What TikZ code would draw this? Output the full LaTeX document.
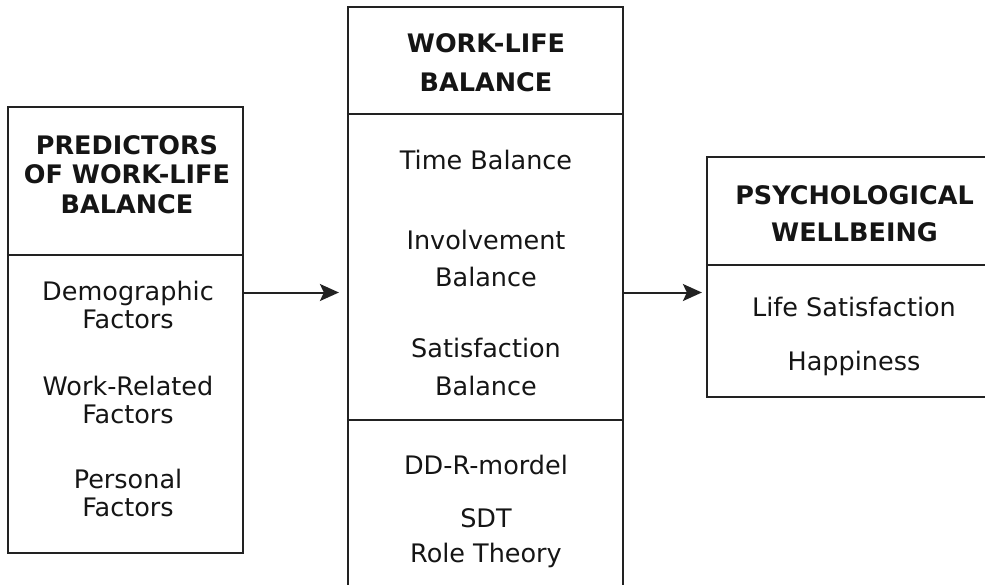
\documentclass[tikz,border=0pt]{standalone}
\usepackage{fontspec}
\setmainfont{DejaVu Sans}
\usetikzlibrary{arrows.meta}

\definecolor{linegray}{HTML}{222222}
\definecolor{inkgray}{HTML}{151515}

\tikzset{
  box/.style={draw=linegray, line width=2.2pt, rectangle, inner sep=0pt},
  head/.style={font=\fontsize{25.5}{#1}\selectfont\bfseries, align=center, text=inkgray, inner sep=0pt},
  item/.style={font=\fontsize{25.5}{#1}\selectfont, align=center, text=inkgray, inner sep=0pt},
  link/.style={draw=linegray, line width=2pt, -{Stealth[length=19pt,width=17pt,inset=4pt]}},
}

\begin{document}
\begin{tikzpicture}[x=1pt, y=-1pt]

    % Page frame, everything outside it is cut off
    \useasboundingbox (0,0) rectangle (985,584);
    \clip (0,0) rectangle (985,584);

    % Height of the two connectors
    \def\rowy{292.5}
    \coordinate (row) at (0,\rowy);

    % The three boxes
    \node[box, minimum width=235pt, minimum height=446pt] (pred) at (125.5,330) {};
    \node[box, minimum width=275pt, minimum height=600pt] (wlb) at (485.5,307) {};
    \node[box, minimum width=294pt, minimum height=240pt] (psy) at (854,277) {};

    % Lines under the headings
    \draw[linegray, line width=2pt] (pred.west |- 0,255) -- (pred.east |- 0,255);
    \draw[linegray, line width=2pt] (wlb.west |- 0,114) -- (wlb.east |- 0,114);
    \draw[linegray, line width=2pt] (wlb.west |- 0,420) -- (wlb.east |- 0,420);
    \draw[linegray, line width=2pt] (psy.west |- 0,265) -- (psy.east |- 0,265);

    % Left box: predictors
    \node[head=29.5] (predhead) at (127,174.5) {PREDICTORS\\OF WORK-LIFE\\BALANCE};
    \node[item=28] (demo) at (128,305) {Demographic\\Factors};
    \node[item=28] (workrel) at (128,400) {Work-Related\\Factors};
    \node[item=28] (personal) at (128,493) {Personal\\Factors};

    % Middle box: work-life balance
    \node[head=39] (wlbhead) at (486,62.5) {WORK-LIFE\\BALANCE};
    \node[item=37] (time) at (486,160) {Time Balance};
    \node[item=37] (involve) at (486,258.5) {Involvement\\Balance};
    \node[item=38] (satis) at (486,367) {Satisfaction\\Balance};
    \node[item=37] (ddr) at (486,465) {DD-R-mordel};
    \node[item=35] (theory) at (486,538) {SDT\\Role Theory};

    % Right box: psychological wellbeing
    \node[head=37] (psyhead) at (854.5,213.5) {PSYCHOLOGICAL\\WELLBEING};
    \node[item=37] (lifesat) at (854,307) {Life Satisfaction};
    \node[item=37] (happy) at (854,363) {Happiness};

    % Connectors between the boxes
    \draw[link, shorten >=8pt] (pred.east |- row) -- (wlb.west |- row);
    \draw[link, shorten >=4pt] (wlb.east |- row) -- (psy.west |- row);

\end{tikzpicture}
\end{document}
